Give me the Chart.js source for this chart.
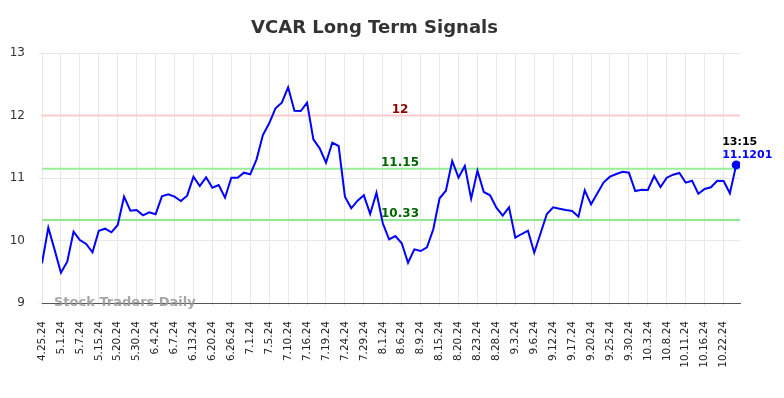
<!DOCTYPE html>
<html>
<head>
<meta charset="utf-8">
<script src="https://cdn.jsdelivr.net/npm/chart.js@4.4.1/dist/chart.umd.min.js"></script>
<style>
  html, body { margin: 0; padding: 0; background: #ffffff; }
  #wrap { width: 784px; height: 398px; position: relative; }
</style>
</head>
<body>
<div id="wrap"><canvas id="c" width="784" height="398"></canvas></div>
<script>
const chartTitle = "VCAR Long Term Signals";
const tickLabels = ["4.25.24","5.1.24","5.7.24","5.15.24","5.20.24","5.30.24","6.4.24","6.7.24","6.13.24","6.20.24","6.26.24","7.1.24","7.5.24","7.10.24","7.16.24","7.19.24","7.24.24","7.29.24","8.1.24","8.6.24","8.9.24","8.15.24","8.20.24","8.23.24","8.28.24","9.3.24","9.6.24","9.12.24","9.17.24","9.20.24","9.25.24","9.30.24","10.3.24","10.8.24","10.11.24","10.16.24","10.22.24"];
const pointsPerTick = 3;
const prices = [
  9.635,10.205,9.85,9.485,9.661,10.141,10.008,9.944,9.811,10.157,
  10.189,10.131,10.248,10.701,10.477,10.488,10.403,10.451,10.419,10.707,
  10.739,10.701,10.632,10.717,11.021,10.872,11.011,10.845,10.888,10.685,
  11.005,11.005,11.085,11.059,11.299,11.688,11.875,12.115,12.205,12.451,
  12.077,12.072,12.205,11.619,11.475,11.245,11.565,11.512,10.701,10.515,
  10.637,10.723,10.424,10.765,10.275,10.019,10.072,9.955,9.645,9.859,
  9.832,9.891,10.179,10.675,10.797,11.272,11.005,11.192,10.669,11.117,
  10.776,10.723,10.525,10.397,10.531,10.045,10.104,10.157,9.805,10.115,
  10.424,10.531,10.509,10.488,10.472,10.381,10.803,10.579,10.755,10.931,
  11.021,11.064,11.101,11.085,10.792,10.813,10.808,11.032,10.856,11.005,
  11.053,11.08,10.925,10.957,10.749,10.824,10.851,10.957,10.952,10.755,
  11.21
];
const signalLevels = [12, 11.15, 10.33];
const signalTexts = ["12", "11.15", "10.33"];
const lastTime = "13:15";
const lastPriceText = "11.1201";
const watermark = "Stock Traders Daily";

const FONT = "'DejaVu Sans', sans-serif";
const levelLineColors = ["#ffcccc", "#99ee99", "#90e890"];
const levelTextColors = ["#8b0000", "#006400", "#006400"];

const points = prices.map((v, i) => ({ x: i, y: v }));
const lastIdx = prices.length - 1;

const overlay = {
  id: 'overlay',
  beforeDatasetsDraw(chart) {
    const { ctx, chartArea: a, scales: { y } } = chart;
    ctx.save();
    signalLevels.forEach((lv, k) => {
      const py = y.getPixelForValue(lv);
      ctx.strokeStyle = levelLineColors[k];
      ctx.lineWidth = 2;
      ctx.beginPath();
      ctx.moveTo(a.left, py);
      ctx.lineTo(a.right, py);
      ctx.stroke();
    });
    ctx.restore();
  },
  afterDatasetsDraw(chart) {
    const { ctx, chartArea: a, scales: { x, y } } = chart;
    ctx.save();
    ctx.font = "bold 12px " + FONT;
    ctx.textAlign = 'center';
    ctx.textBaseline = 'alphabetic';
    signalLevels.forEach((lv, k) => {
      const py = y.getPixelForValue(lv);
      ctx.fillStyle = levelTextColors[k];
      ctx.fillText(signalTexts[k], 400, py - 3);
    });
    const lx = x.getPixelForValue(lastIdx);
    const ly = y.getPixelForValue(prices[lastIdx]);
    ctx.textAlign = 'left';
    ctx.font = "bold 11px " + FONT;
    ctx.fillStyle = '#000000';
    ctx.fillText(lastTime, lx - 14, ly - 19.5);
    ctx.fillStyle = '#0000ff';
    ctx.fillText(lastPriceText, lx - 14, ly - 6.5);
    ctx.restore();
  },
  afterDraw(chart) {
    const { ctx } = chart;
    ctx.save();
    ctx.font = "bold 18px " + FONT;
    ctx.fillStyle = '#333333';
    ctx.textAlign = 'center';
    ctx.textBaseline = 'alphabetic';
    ctx.fillText(chartTitle, 374.5, 33);
    ctx.font = "bold 13px " + FONT;
    ctx.fillStyle = 'rgba(150,150,150,0.85)';
    ctx.textAlign = 'left';
    ctx.fillText(watermark, 54, 306);
    ctx.restore();
  }
};

new Chart(document.getElementById('c'), {
  type: 'line',
  data: {
    datasets: [{
      data: points,
      borderColor: '#0000ff',
      backgroundColor: '#0000ff',
      borderWidth: 2,
      tension: 0,
      pointRadius: ctx => ctx.dataIndex === lastIdx ? 4.5 : 0,
      pointHoverRadius: 0,
      pointBorderWidth: 0,
      fill: false
    }]
  },
  options: {
    responsive: false,
    animation: false,
    devicePixelRatio: 1,
    layout: { padding: { left: 0, right: 44, top: 53, bottom: 0 } },
    plugins: { legend: { display: false }, title: { display: false }, tooltip: { enabled: false } },
    scales: {
      x: {
        type: 'linear',
        min: 0,
        max: 110.6,
        afterFit: s => { s.height = 95; },
        grid: { color: '#e8e8e8', lineWidth: 1, tickLength: 3 },
        border: { display: true, color: '#555555', width: 1 },
        ticks: {
          stepSize: pointsPerTick,
          includeBounds: false,
          autoSkip: false,
          minRotation: 90,
          maxRotation: 90,
          padding: 15,
          color: '#222222',
          font: { family: FONT, size: 10.5 },
          callback: v => {
            const k = Math.round(v / pointsPerTick);
            return (Math.abs(v - k * pointsPerTick) < 1e-6 && tickLabels[k]) ? tickLabels[k] : '';
          }
        }
      },
      y: {
        min: 9,
        max: 13,
        afterFit: s => { s.width = 42; },
        grid: { color: '#e8e8e8', lineWidth: 1, tickLength: 3 },
        border: { display: false },
        ticks: {
          stepSize: 1,
          padding: 14,
          color: '#333333',
          font: { family: FONT, size: 12 }
        }
      }
    }
  },
  plugins: [overlay]
});
</script>
</body>
</html>
